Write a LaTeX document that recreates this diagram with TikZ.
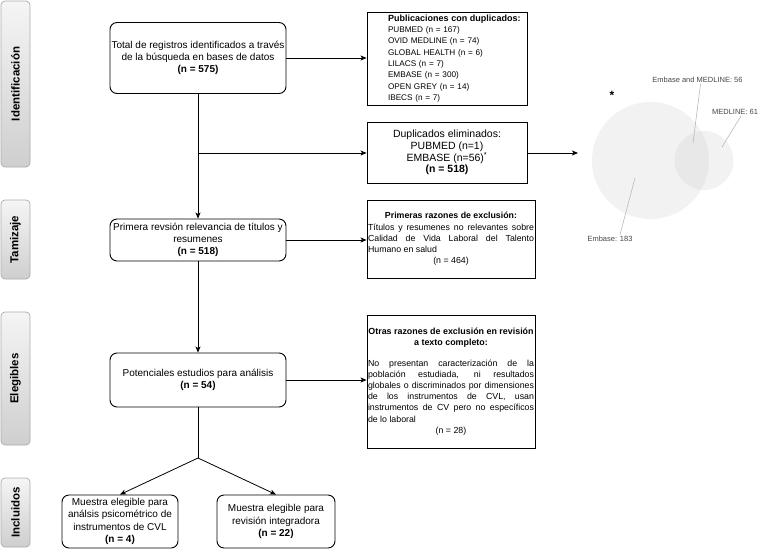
\documentclass[tikz,border=0pt]{standalone}
\usepackage{fontspec}
\setmainfont{Liberation Sans}
\usetikzlibrary{arrows.meta,shapes.geometric}
\begin{document}
\begin{tikzpicture}[x=1pt,y=-1pt,
  mainbox/.style={draw, line width=0.9pt, rounded corners=7pt, align=center, inner sep=0pt, font=\fontsize{10}{12.3}\selectfont},
  rbox/.style={draw, line width=0.9pt, inner sep=1pt},
  sidebox/.style={draw=gray!65, line width=0.7pt, rounded corners=4pt, rotate=90, minimum height=29pt, inner sep=0pt, top color=gray!8, bottom color=gray!38, font=\bfseries\fontsize{11.5}{13}\selectfont},
  conn/.style={line width=0.8pt, -{Stealth[length=6pt,width=5pt,inset=1.5pt]}},
  plain/.style={line width=0.8pt},
  vennlbl/.style={font=\fontsize{7.5}{9}\selectfont, text=black!72, inner sep=0pt},
  leader/.style={draw=gray!55, line width=0.6pt},
  venncirc/.style={circle, fill=gray!50, fill opacity=0.2, inner sep=0pt},
]
\useasboundingbox (0,0) rectangle (765,549);

% side labels
\node[sidebox, minimum width=166pt] (sIdent) at (15.5,84) {Identificación};
\node[sidebox, minimum width=79pt] (sTam) at (15.5,239.5) {Tamizaje};
\node[sidebox, minimum width=133pt] (sEle) at (15.5,378.5) {Elegibles};
\node[sidebox, minimum width=69pt] (sInc) at (15.5,512.5) {Incluidos};

% main boxes
\node[mainbox, minimum width=176pt, minimum height=71pt] (b1) at (198,58)
  {Total de registros identificados a través\\de la búsqueda en bases de datos\\\textbf{(n = 575)}};
\node[mainbox, minimum width=176pt, minimum height=42pt] (prim) at (198,240)
  {Primera revsión relevancia de títulos y\\resumenes\\\textbf{(n = 518)}};
\node[mainbox, minimum width=176pt, minimum height=54pt] (pot) at (198,380)
  {Potenciales estudios para análisis\\\textbf{(n = 54)}};
\node[mainbox, minimum width=116pt, minimum height=53pt] (m1) at (120,521.5)
  {Muestra elegible para\\análsis psicométrico de\\instrumentos de CVL\\\textbf{(n = 4)}};
\node[mainbox, minimum width=118pt, minimum height=53pt] (m2) at (276,521.5)
  {Muestra elegible para\\revisión integradora\\\textbf{(n = 22)}};

% right boxes
\node[rbox, inner sep=2pt, text width=156pt, minimum height=93pt, align=left, font=\fontsize{8.2}{11.3}\selectfont] (pub) at (447,58.5)
  {\leftskip=19pt {\fontsize{9}{11.3}\selectfont\bfseries Publicaciones con duplicados:}\\
   PUBMED (n = 167)\\
   OVID MEDLINE (n = 74)\\
   GLOBAL HEALTH (n = 6)\\
   LILACS (n = 7)\\
   EMBASE (n = 300)\\
   OPEN GREY (n = 14)\\
   IBECS (n = 7)\par};
\node[rbox, minimum width=160pt, minimum height=61pt, align=center, font=\fontsize{10.5}{11.8}\selectfont] (dup) at (447,152.5)
  {Duplicados eliminados:\\PUBMED (n=1)\\EMBASE (n=56)\textsuperscript{*}\\\textbf{(n = 518)}};
\node[rbox, text width=166pt, minimum height=78pt, align=justify, font=\fontsize{8.8}{11.2}\selectfont] (raz1) at (451,239)
  {{\centering\bfseries Primeras razones de exclusión:\par}
   Títulos y resumenes no relevantes sobre\linebreak Calidad de Vida Laboral del Talento\linebreak Humano en salud\par
   {\centering (n = 464)\par}};
\node[rbox, text width=166pt, minimum height=133pt, align=justify, font=\fontsize{8.8}{11.2}\selectfont] (raz2) at (451,381.5)
  {{\centering\bfseries\fontsize{8.9}{11.5}\selectfont Otras razones de exclusión en revisión\\ a texto completo:\par}
   \vspace{9pt}
   No presentan caracterización de la\linebreak población estudiada, ni resultados\linebreak globales o discriminados por dimensiones\linebreak de los instrumentos de CVL, usan\linebreak instrumentos de CV pero no específicos\linebreak de lo laboral\par
   {\centering (n = 28)\par}};

% connector points
\coordinate (br1) at (198,153);
\coordinate (split) at (198,458);
\coordinate (vend) at (578,153);

% connectors
\draw[conn] (b1.east) -- (b1.east -| pub.west);
\draw[conn] (b1.south) -- (prim.north);
\draw[conn] (br1) -- (br1 -| dup.west);
\draw[conn] (dup.east |- br1) -- (vend);
\draw[conn] (prim.east) -- (prim.east -| raz1.west);
\draw[conn] (prim.south) -- (pot.north);
\draw[conn] (pot.east) -- (pot.east -| raz2.west);
\draw[plain] (pot.south) -- (split);
\draw[conn] (split) -- (m1.north);
\draw[conn] (split) -- (m2.north);

% Venn diagram
\node[venncirc, minimum size=117pt] (vbig) at (650.5,160.5) {};
\node[venncirc, minimum size=59pt] (vsmall) at (704,160.5) {};
\node[font=\bfseries\fontsize{12}{12}\selectfont, inner sep=0pt] (ast) at (612,95) {*};
\node[vennlbl] (lboth) at (697.5,80) {Embase and MEDLINE: 56};
\node[vennlbl] (lmed) at (735,112) {MEDLINE: 61};
\node[vennlbl] (lemb) at (610,238.5) {Embase: 183};
\coordinate (pboth) at (693,143);
\coordinate (pmed) at (722,147);
\coordinate (pemb) at (635,178);
\draw[leader] (lboth.south) ++(3,1) -- (pboth);
\draw[leader] (lmed.south) ++(6,1) -- (pmed);
\draw[leader] (lemb.north) ++(10,-1) -- (pemb);
\end{tikzpicture}
\end{document}
